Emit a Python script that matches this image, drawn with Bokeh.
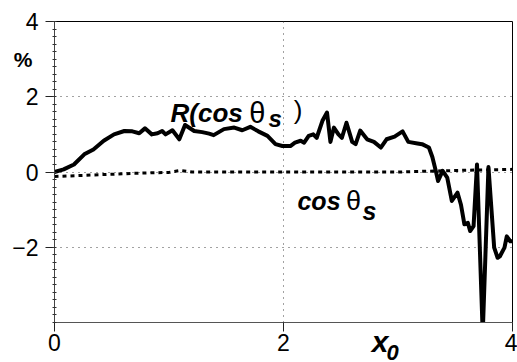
import numpy as np
from bokeh.plotting import figure
from bokeh.models import Range1d, FixedTicker, Label, LinearAxis
from bokeh.embed import file_html
from bokeh.resources import INLINE

# R(cos theta_s) curve
r_x = [0.00, 0.08, 0.17, 0.26, 0.34, 0.43, 0.52, 0.61, 0.68, 0.74, 0.79, 0.85, 0.90, 0.94, 0.97,
       1.03, 1.09, 1.14, 1.22, 1.29, 1.35, 1.39, 1.48, 1.57, 1.64, 1.71, 1.78, 1.86, 1.93, 1.99,
       2.06, 2.10, 2.15, 2.18, 2.22, 2.26, 2.29, 2.34, 2.38, 2.41, 2.44, 2.48, 2.51, 2.55, 2.60,
       2.63, 2.67, 2.73, 2.79, 2.85, 2.90, 2.97, 3.04, 3.09, 3.17, 3.21, 3.27, 3.30, 3.33, 3.35,
       3.39, 3.43, 3.47, 3.52, 3.55, 3.58, 3.61, 3.63, 3.66, 3.69, 3.74, 3.79, 3.84, 3.87, 3.89,
       3.93, 3.95, 3.98, 4.00]
r_y = [0.00, 0.07, 0.20, 0.47, 0.60, 0.83, 1.00, 1.09, 1.08, 1.03, 1.16, 1.00, 1.03, 1.09, 1.00,
       1.11, 0.87, 1.25, 1.09, 1.06, 1.02, 0.98, 1.14, 1.18, 1.11, 1.20, 1.08, 0.96, 0.74, 0.69,
       0.69, 0.78, 0.83, 0.78, 0.96, 1.00, 0.91, 1.36, 1.58, 0.80, 1.18, 1.00, 0.91, 1.31, 0.80,
       0.74, 1.10, 0.87, 0.80, 0.65, 0.87, 0.94, 1.08, 0.80, 0.76, 0.74, 0.65, 0.40, 0.03, -0.24,
       0.03, -0.15, -0.77, -0.55, -0.87, -1.39, -1.35, -1.57, -1.44, 0.20, -4.30, 0.13, -2.01, -2.28, -2.24,
       -2.01, -1.71, -1.84, -1.84]

# cos theta_s curve
c_x = [0.0, 0.25, 0.5, 0.75, 1.0, 1.1, 1.2, 1.5, 2.0, 2.5, 3.0, 3.5, 4.0]
c_y = [-0.12, -0.09, -0.06, -0.03, -0.01, 0.04, 0.0, 0.0, 0.0, 0.0, 0.0, 0.04, 0.07]

x_ticks = [0, 2, 4]
y_ticks = [-2, 0, 2, 4]
x_grid = [2]
y_grid = [-2, 0, 2]

FONT = "Liberation Sans"

p = figure(width=517, height=362, x_range=Range1d(0, 4), y_range=Range1d(-4, 4),
           output_backend="svg", toolbar_location=None,
           min_border_left=54, min_border_right=5, min_border_top=21, min_border_bottom=40,
           background_fill_color="white", border_fill_color="white")

p.outline_line_color = "black"
p.outline_line_width = 1

p.xgrid.ticker = FixedTicker(ticks=x_grid)
p.ygrid.ticker = FixedTicker(ticks=y_grid)
for g in (p.xgrid, p.ygrid):
    g.grid_line_color = "#444444"
    g.grid_line_dash = "1 5"
    g.grid_line_width = 1

minor = [round(v, 2) for v in np.arange(-4, 4.001, 0.2)]
p.yaxis.ticker = FixedTicker(ticks=y_ticks, minor_ticks=minor)
p.xaxis.ticker = FixedTicker(ticks=x_ticks)

for ax in (p.xaxis, p.yaxis):
    ax.major_label_text_font = FONT
    ax.major_label_text_font_size = "23px"
    ax.major_label_text_color = "black"
    ax.major_tick_in = 0
    ax.axis_line_width = 1
    ax.major_tick_line_color = "#222222"

p.yaxis.major_tick_out = 9
p.yaxis.major_label_standoff = 7
p.yaxis.minor_tick_in = 2
p.yaxis.minor_tick_out = 2
p.yaxis.minor_tick_line_color = "#333333"
p.yaxis.axis_line_color = "#444444"

p.xaxis.major_tick_out = 9
p.xaxis.major_label_standoff = 2
p.xaxis.minor_tick_line_color = None
p.xaxis.axis_line_color = "#555555"

p.line(r_x, r_y, line_color="black", line_width=4, line_join="round")
p.line(c_x, c_y, line_color="black", line_width=3, line_dash="4 4")

def lab(x, y, text, size, style):
    p.add_layout(Label(x=x, y=y, text=text,
                       text_font=FONT, text_font_size=size, text_font_style=style,
                       text_color="black", text_baseline="alphabetic", text_align="left"))

# R(cos theta_s ) label
lab(1.013, 1.573, "R(cos", "26px", "bold italic")
lab(1.70, 1.573, "θ", "29px", "normal")
lab(1.87, 1.43, "s", "24px", "bold italic")
lab(2.09, 1.65, ")", "26px", "normal")

# cos theta_s label
lab(2.122, -0.773, "cos", "25px", "bold italic")
lab(2.545, -0.773, "θ", "27px", "normal")
lab(2.69, -1.03, "s", "25px", "bold italic")

def text_axis(place, pos, text, size, style, standoff):
    ax = LinearAxis(ticker=FixedTicker(ticks=[pos]), major_label_overrides={pos: text},
                    axis_line_color=None, major_tick_line_color=None, minor_tick_line_color=None,
                    major_tick_in=0, major_tick_out=0, major_label_standoff=standoff,
                    major_label_text_font=FONT, major_label_text_font_size=size,
                    major_label_text_font_style=style, major_label_text_color="black")
    p.add_layout(ax, place)

# axis titles
text_axis("left", 3, "%", "21px", "bold", -23)
text_axis("below", 2.952, "0", "22px", "bold italic", -9)
text_axis("below", 2.843, "x", "30px", "bold italic", -38)

open("out.html", "w").write(file_html(p, INLINE))
